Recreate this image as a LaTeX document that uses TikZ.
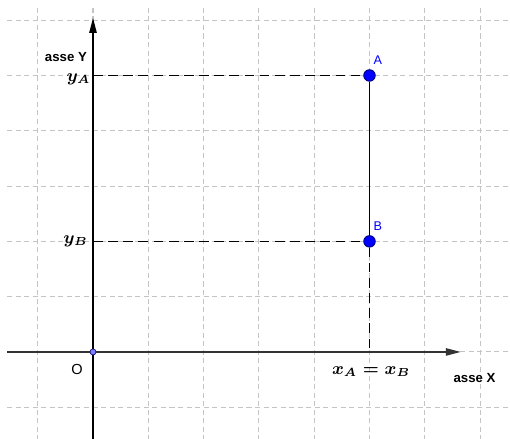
\documentclass[tikz,border=0pt]{standalone}
\usepackage{fontspec}
\setsansfont{Liberation Sans}
\usetikzlibrary{arrows.meta}
\definecolor{gridGray}{HTML}{C4C4C4}
\definecolor{pointBlue}{HTML}{0000FF}
\definecolor{originBlue}{HTML}{7D7DFF}
\definecolor{rimBlue}{HTML}{00006A}
\tikzset{
  lbl/.style={font=\sffamily\bfseries\fontsize{6.8}{8}\selectfont},
  ptlbl/.style={font=\sffamily\fontsize{6.5}{8}\selectfont, text=pointBlue},
}

\begin{document}
\begin{tikzpicture}[
  gridline/.style={gridGray, line width=0.55pt, dash pattern=on 2.6pt off 1.8pt},
  proj/.style={line width=0.6pt, dash pattern=on 5pt off 2.8pt},
  axis/.style={line width=0.75pt, -{Triangle[length=7.7pt, width=3.8pt]}},
  pt/.style={circle, draw=rimBlue, line width=0.4pt, fill=pointBlue,
             inner sep=0pt, minimum size=0.21cm},
  opt/.style={circle, draw=rimBlue, line width=0.3pt, fill=originBlue,
              inner sep=0pt, minimum size=0.11cm},
  mlbl/.style={font=\fontsize{8.6}{10}\selectfont\boldmath}]
  \useasboundingbox (-1.682,-1.573) rectangle (7.541,6.365);
  \draw[gridline] (-1.555,-1.6) grid (7.6,6.27);
  % axes
  \coordinate (xstart) at (-1.555,0);
  \coordinate (xend)   at (6.65,0);
  \coordinate (ystart) at (0,-1.6);
  \coordinate (yend)   at (0,6.04);
  \draw[axis, black!80] (xstart) -- (xend);
  \draw[axis] (ystart) -- (yend);
  % points and feet
  \node[pt]  (A) at (5,5) {};
  \node[pt]  (B) at (5,2) {};
  \node[opt] (O) at (0,0) {};
  \coordinate (yA)  at (0,5);
  \coordinate (yB)  at (0,2);
  \coordinate (xAB) at (5,0);
  \draw[proj] (yA) -- (A);
  \draw[proj] (yB) -- (B);
  \draw[proj] (B) -- (xAB);
  \draw[line width=0.6pt] (A) -- (B);
  % labels
  \node[ptlbl] (labA) at (5.15,5.28) {A};
  \node[ptlbl] (labB) at (5.15,2.28) {B};
  \node[lbl] (asseY) at (-0.49,5.33) {asse Y};
  \node[lbl] (asseX) at (6.9,-0.47) {asse X};
  \node[font=\sffamily\fontsize{7.5}{9}\selectfont] (labO) at (-0.29,-0.325) {O};
  \node[mlbl, anchor=east, inner sep=0pt] (labyA) at (-0.04,4.93) {$y_A$};
  \node[mlbl, anchor=east, inner sep=0pt] (labyB) at (-0.09,2.0) {$y_B$};
  \node[mlbl] (labx) at (5.03,-0.36) {$x_A = x_B$};
\end{tikzpicture}
\end{document}
